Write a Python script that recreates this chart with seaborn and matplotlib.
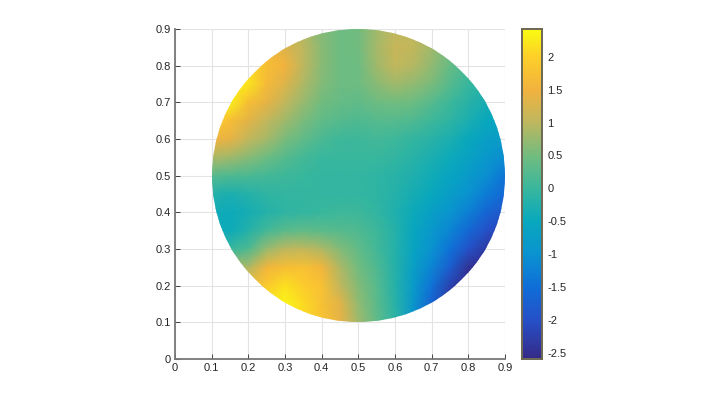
import numpy as np
import pandas as pd
import matplotlib
matplotlib.use('Agg')
import matplotlib.pyplot as plt
from matplotlib.colors import LinearSegmentedColormap
from matplotlib.patches import Circle
import seaborn as sns

# field values, x = 0.10 ... 0.90, y = 0.90 ... 0.10 (steps of 0.05)
x_vals = [0.10, 0.15, 0.20, 0.25, 0.30, 0.35, 0.40, 0.45, 0.50, 0.55, 0.60, 0.65, 0.70, 0.75, 0.80, 0.85, 0.90]
y_vals = [0.90, 0.85, 0.80, 0.75, 0.70, 0.65, 0.60, 0.55, 0.50, 0.45, 0.40, 0.35, 0.30, 0.25, 0.20, 0.15, 0.10]
row_90 = [1.8, 1.8, 1.8, 1.5, 1.2, 0.9, 0.6, 0.45, 0.5, 0.8, 1.0, 1.0, 0.8, 0.4, 0.2, 0.0, -0.2]
row_85 = [2.0, 2.0, 1.9, 1.6, 1.3, 1.0, 0.65, 0.45, 0.5, 0.85, 1.1, 1.05, 0.8, 0.5, 0.2, 0.0, -0.2]
row_80 = [2.2, 2.2, 2.1, 1.7, 1.5, 1.0, 0.65, 0.45, 0.45, 0.8, 1.05, 0.95, 0.7, 0.4, 0.1, -0.1, -0.3]
row_75 = [2.3, 2.3, 2.2, 1.6, 1.3, 0.9, 0.6, 0.45, 0.45, 0.65, 0.8, 0.7, 0.55, 0.25, 0.0, -0.2, -0.4]
row_70 = [2.3, 2.3, 1.7, 1.4, 1.05, 0.75, 0.5, 0.4, 0.35, 0.45, 0.5, 0.45, 0.25, 0.05, -0.15, -0.35, -0.5]
row_65 = [2.0, 1.7, 1.35, 1.05, 0.8, 0.55, 0.35, 0.25, 0.2, 0.25, 0.25, 0.2, 0.05, -0.1, -0.3, -0.5, -0.65]
row_60 = [1.5, 1.4, 1.05, 0.85, 0.55, 0.35, 0.15, 0.05, 0.05, 0.1, 0.05, -0.05, -0.15, -0.3, -0.5, -0.7, -0.8]
row_55 = [0.9, 0.8, 0.65, 0.45, 0.25, 0.1, 0.0, 0.0, 0.0, 0.0, -0.05, -0.15, -0.3, -0.45, -0.65, -0.85, -1.1]
row_50 = [0.25, 0.2, 0.15, 0.1, 0.05, 0.0, -0.05, -0.05, -0.05, -0.1, -0.15, -0.25, -0.4, -0.6, -0.8, -1.05, -1.4]
row_45 = [-0.2, -0.3, -0.2, -0.1, -0.05, -0.05, -0.05, -0.05, -0.05, -0.1, -0.2, -0.35, -0.5, -0.75, -1.0, -1.3, -1.6]
row_40 = [-0.4, -0.45, -0.35, -0.2, -0.1, -0.05, 0.0, 0.05, 0.05, -0.05, -0.25, -0.45, -0.7, -0.95, -1.25, -1.65, -1.9]
row_35 = [-0.45, -0.45, -0.2, 0.1, 0.3, 0.35, 0.3, 0.25, 0.2, 0.05, -0.2, -0.55, -0.85, -1.2, -1.6, -2.0, -2.2]
row_30 = [0.0, 0.0, 0.2, 0.75, 1.0, 1.05, 0.9, 0.6, 0.35, 0.1, -0.2, -0.6, -1.0, -1.45, -1.95, -2.35, -2.5]
row_25 = [0.8, 0.8, 0.9, 1.55, 1.7, 1.75, 1.55, 0.9, 0.5, 0.2, -0.2, -0.7, -1.2, -1.75, -2.45, -2.5, -2.5]
row_20 = [1.5, 1.5, 1.6, 1.9, 2.15, 1.95, 1.75, 1.05, 0.6, 0.25, -0.2, -0.8, -1.45, -2.2, -2.6, -2.6, -2.6]
row_15 = [2.0, 2.0, 2.1, 2.2, 2.35, 2.1, 1.75, 1.35, 0.7, 0.3, -0.15, -0.9, -1.7, -2.4, -2.6, -2.6, -2.6]
row_10 = [2.2, 2.2, 2.2, 2.2, 2.3, 2.1, 1.8, 1.4, 0.8, 0.35, -0.1, -1.0, -1.9, -2.4, -2.6, -2.6, -2.6]

rows = [row_90, row_85, row_80, row_75, row_70, row_65, row_60, row_55, row_50,
        row_45, row_40, row_35, row_30, row_25, row_20, row_15, row_10]
field = pd.DataFrame(rows, index=y_vals, columns=x_vals)

tick_vals = [0, 0.1, 0.2, 0.3, 0.4, 0.5, 0.6, 0.7, 0.8, 0.9]
tick_labels = ['0', '0.1', '0.2', '0.3', '0.4', '0.5', '0.6', '0.7', '0.8', '0.9']
cbar_vals = [-2.5, -2, -1.5, -1, -0.5, 0, 0.5, 1, 1.5, 2]
cbar_labels = ['-2.5', '-2', '-1.5', '-1', '-0.5', '0', '0.5', '1', '1.5', '2']

vmin, vmax = -2.59, 2.42

# colours as they sit on the colorbar in the picture
cmap_vals = [-2.59, -2, -1.5, -1, -0.5, 0, 0.5, 1, 1.5, 2, 2.42]
cmap_cols = ['#352a87', '#2650c8', '#0f6ed8', '#0a93d0', '#08a8bd', '#38b79d',
             '#72bc7f', '#bdb75f', '#f2b23e', '#fdcf2a', '#f9fb10']
parula = LinearSegmentedColormap.from_list(
    'parula', [((v - vmin) / (vmax - vmin), c) for v, c in zip(cmap_vals, cmap_cols)])

sns.set_theme(style='white')
plt.rcParams['font.family'] = ['Liberation Sans', 'DejaVu Sans']

fig = plt.figure(figsize=(7.14, 4.05), dpi=100)
ax = fig.add_axes([175 / 714, 46 / 405, 330 / 714, 330 / 405])
cax = fig.add_axes([522 / 714, 46 / 405, 20 / 714, 330 / 405])

ax_hm = sns.heatmap(field, ax=ax, cbar_ax=cax, cmap=parula, vmin=vmin, vmax=vmax,
                    shading='gouraud', xticklabels=False, yticklabels=False)
mesh = ax_hm.collections[0]

# heatmap nodes are integer positions: convert axis values to them
to_col = lambda v: (v - x_vals[0]) / 0.05
to_row = lambda v: (y_vals[0] - v) / 0.05
mesh.set_clip_path(Circle((to_col(0.5), to_row(0.5)), 8, transform=ax.transData))

ax.set_xlim(to_col(0), to_col(0.9))
ax.set_ylim(to_row(0), to_row(0.9))
ax.set_aspect('auto')
ax.set_xticks([to_col(v) for v in tick_vals])
ax.set_xticklabels(tick_labels)
ax.set_yticks([to_row(v) for v in tick_vals])
ax.set_yticklabels(tick_labels, rotation=0)
ax.grid(True, color='#e3e3e3', linewidth=0.8)
ax.set_axisbelow(True)
ax.tick_params(direction='in', length=3.5, width=0.7, color='#404040', labelcolor='#262626',
               labelsize=8, pad=3, bottom=True, left=True)
sns.despine(ax=ax, top=True, right=True)
for side in ['left', 'bottom']:
    ax.spines[side].set_visible(True)
    ax.spines[side].set_color('#777777')
    ax.spines[side].set_linewidth(1.3)

cax.set_yticks(cbar_vals)
cax.set_yticklabels(cbar_labels)
cax.tick_params(direction='in', length=2.5, width=0.7, color='#404040', labelcolor='#262626',
                labelsize=8, pad=4, right=True, left=False)
cax.yaxis.set_ticks_position('right')
for sp in cax.spines.values():
    sp.set_visible(True)
    sp.set_color('#6e6a55')
    sp.set_linewidth(1.3)

fig.savefig('out.png', dpi=100)
